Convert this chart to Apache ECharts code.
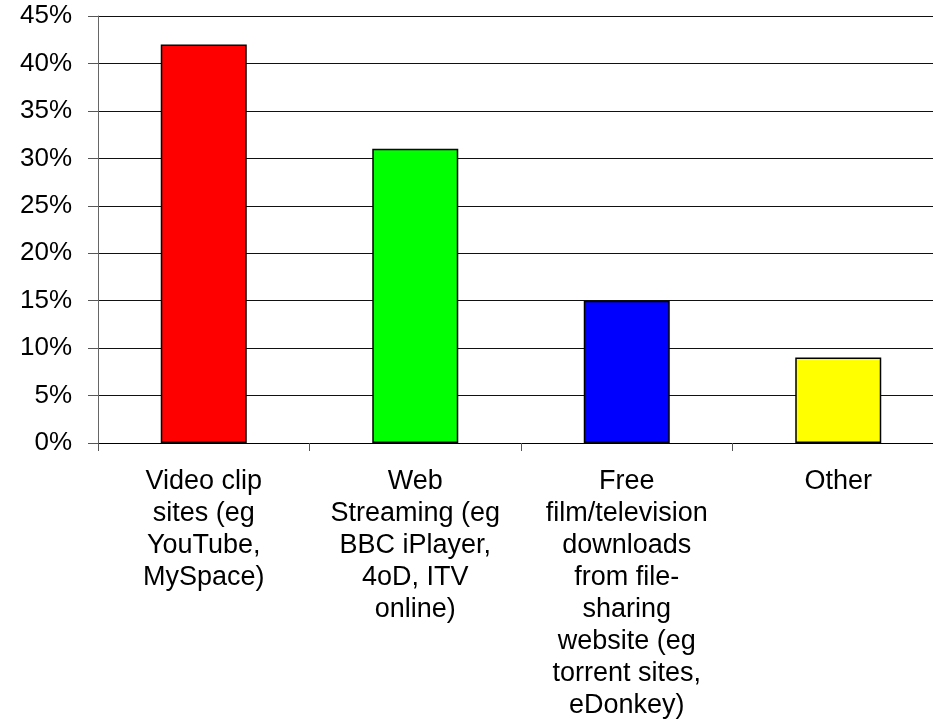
<!DOCTYPE html>
<html>
<head>
<meta charset="utf-8">
<script src="https://cdn.jsdelivr.net/npm/echarts@6/dist/echarts.min.js"></script>
<style>
html,body{margin:0;padding:0;background:#fff;overflow:hidden;width:933px;height:723px;}
#chart{width:948px;height:723px;}
</style>
</head>
<body>
<div id="chart"></div>
<script>
const categories = [
  "Video clip\nsites (eg\nYouTube,\nMySpace)",
  "Web\nStreaming (eg\nBBC iPlayer,\n4oD, ITV\nonline)",
  "Free\nfilm/television\ndownloads\nfrom file-\nsharing\nwebsite (eg\ntorrent sites,\neDonkey)",
  "Other"
];
const values = [42, 31, 15, 9];
const barColors = ["#FF0000", "#00FF00", "#0000FF", "#FFFF00"];
const yMin = 0, yMax = 45, yStep = 5;

const chart = echarts.init(document.getElementById('chart'), null, {renderer: 'canvas'});
chart.setOption({
  animation: false,
  backgroundColor: '#ffffff',
  grid: {left: 98, top: 16, right: 4, bottom: 280, containLabel: false},
  xAxis: {
    type: 'category',
    data: categories,
    boundaryGap: true,
    axisLine: {show: true, lineStyle: {color: '#000', width: 1}},
    axisTick: {show: true, alignWithLabel: false, length: 8, lineStyle: {color: '#555'}},
    axisLabel: {
      interval: 0,
      margin: 23,
      color: '#000',
      fontFamily: 'Liberation Sans, Arial, sans-serif',
      fontSize: 27,
      lineHeight: 32,
      align: 'center'
    },
    splitLine: {show: false}
  },
  yAxis: {
    type: 'value',
    min: yMin, max: yMax, interval: yStep,
    axisLine: {show: true, lineStyle: {color: '#666', width: 1}},
    axisTick: {show: true, length: 10, lineStyle: {color: '#555'}},
    axisLabel: {
      formatter: '{value}%',
      margin: 26,
      color: '#000',
      fontFamily: 'Liberation Sans, Arial, sans-serif',
      fontSize: 26
    },
    splitLine: {show: true, lineStyle: {color: '#111', width: 1}}
  },
  series: [{
    type: 'bar',
    data: values.map((v, i) => ({value: v, itemStyle: {color: barColors[i]}})),
    barWidth: 86,
    itemStyle: {borderColor: '#000', borderWidth: 1.5}
  }]
});
</script>
</body>
</html>
